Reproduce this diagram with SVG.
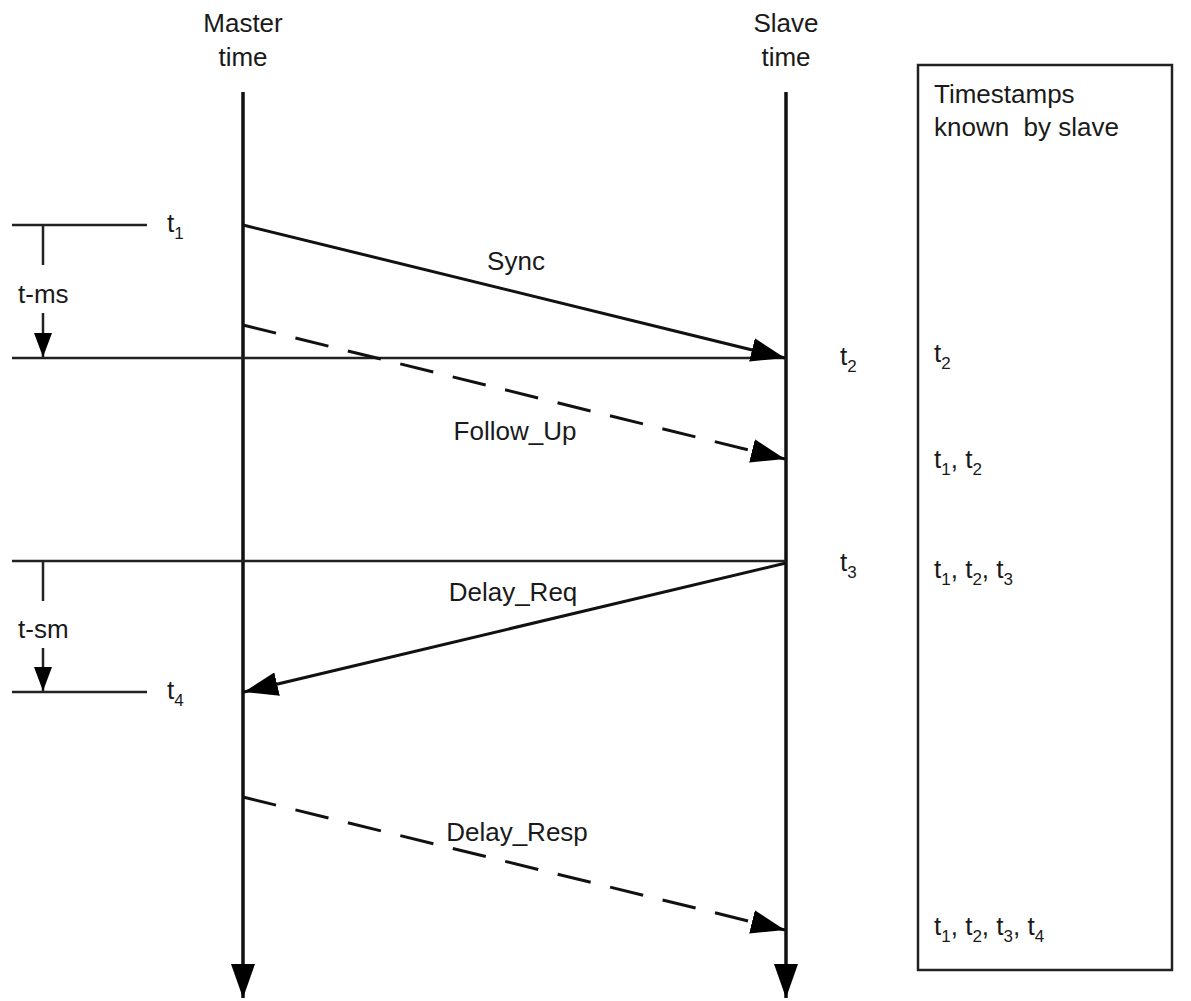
<svg xmlns="http://www.w3.org/2000/svg" width="1191" height="1001" viewBox="0 0 1191 1001">
<style>
text{font-family:"Liberation Sans",Arial,sans-serif;font-size:26px;fill:#1a1a1a}
.sub{font-size:17px}
.life{stroke:#111;stroke-width:3.5;fill:none}
.thin{stroke:#222;stroke-width:2.5;fill:none}
.msg{stroke:#111;stroke-width:3;fill:none}
.dash{stroke-dasharray:34 20}
</style>
<defs>
<marker id="ah" viewBox="0 0 34 24" refX="34" refY="12" markerWidth="34" markerHeight="24" markerUnits="userSpaceOnUse" orient="auto">
<path d="M0,0 L34,12 L0,24 Z" fill="#000"/>
</marker>
<marker id="ahs" viewBox="0 0 24 44" refX="24" refY="22" markerWidth="24" markerHeight="44" markerUnits="userSpaceOnUse" orient="auto">
<path d="M0,13 L24,22 L0,31 Z" fill="#000"/>
</marker>
</defs>
<rect width="1191" height="1001" fill="#fff"/>

<g id="master">
<text x="243" y="32" text-anchor="middle">Master</text>
<text x="243" y="66" text-anchor="middle">time</text>
<line class="life" x1="243" y1="92" x2="243" y2="998" marker-end="url(#ah)"/>
</g>
<g id="slave">
<text x="786" y="32" text-anchor="middle">Slave</text>
<text x="786" y="66" text-anchor="middle">time</text>
<line class="life" x1="786" y1="92" x2="786" y2="998" marker-end="url(#ah)"/>
</g>

<g id="timestamps-box">
<rect x="918" y="65" width="254" height="905" fill="none" stroke="#222" stroke-width="2.5"/>
<text x="934" y="103">Timestamps</text>
<text x="934" y="136" xml:space="preserve">known  by slave</text>
<text x="934" y="362">t<tspan class="sub" dy="7">2</tspan></text>
<text x="934" y="468">t<tspan class="sub" dy="7">1</tspan><tspan dy="-7">, t</tspan><tspan class="sub" dy="7">2</tspan></text>
<text x="934" y="578">t<tspan class="sub" dy="7">1</tspan><tspan dy="-7">, t</tspan><tspan class="sub" dy="7">2</tspan><tspan dy="-7">, t</tspan><tspan class="sub" dy="7">3</tspan></text>
<text x="934" y="935">t<tspan class="sub" dy="7">1</tspan><tspan dy="-7">, t</tspan><tspan class="sub" dy="7">2</tspan><tspan dy="-7">, t</tspan><tspan class="sub" dy="7">3</tspan><tspan dy="-7">, t</tspan><tspan class="sub" dy="7">4</tspan></text>
</g>

<g id="t-ms">
<line class="thin" x1="12" y1="225" x2="147" y2="225"/>
<line class="thin" x1="43" y1="225" x2="43" y2="265"/>
<text x="18" y="303">t-ms</text>
<line class="thin" x1="43" y1="313" x2="43" y2="357" marker-end="url(#ahs)"/>
<line class="thin" x1="12" y1="358" x2="786" y2="358"/>
<text x="167" y="232">t<tspan class="sub" dy="7">1</tspan></text>
</g>

<g id="t-sm">
<line class="thin" x1="12" y1="561" x2="786" y2="561"/>
<line class="thin" x1="43" y1="561" x2="43" y2="601"/>
<text x="18" y="638">t-sm</text>
<line class="thin" x1="43" y1="648" x2="43" y2="691" marker-end="url(#ahs)"/>
<line class="thin" x1="12" y1="692" x2="147" y2="692"/>
<text x="167" y="699">t<tspan class="sub" dy="7">4</tspan></text>
</g>

<g id="slave-times">
<text x="840" y="365">t<tspan class="sub" dy="7">2</tspan></text>
<text x="840" y="571">t<tspan class="sub" dy="7">3</tspan></text>
</g>

<g id="connectors">
<line class="msg" x1="243" y1="225" x2="785" y2="358" marker-end="url(#ah)"/>
<text x="516" y="270" text-anchor="middle">Sync</text>
<line class="msg dash" x1="243" y1="325" x2="785" y2="459" marker-end="url(#ah)"/>
<text x="515" y="440" text-anchor="middle">Follow_Up</text>
<line class="msg" x1="786" y1="563" x2="244" y2="692" marker-end="url(#ah)"/>
<rect x="440" y="578" width="146" height="28" fill="#fff"/>
<text x="513" y="601" text-anchor="middle">Delay_Req</text>
<line class="msg dash" x1="243" y1="797" x2="785" y2="930" marker-end="url(#ah)"/>
<rect x="436" y="818" width="162" height="27" fill="#fff"/>
<text x="517" y="841" text-anchor="middle">Delay_Resp</text>
</g>
</svg>
